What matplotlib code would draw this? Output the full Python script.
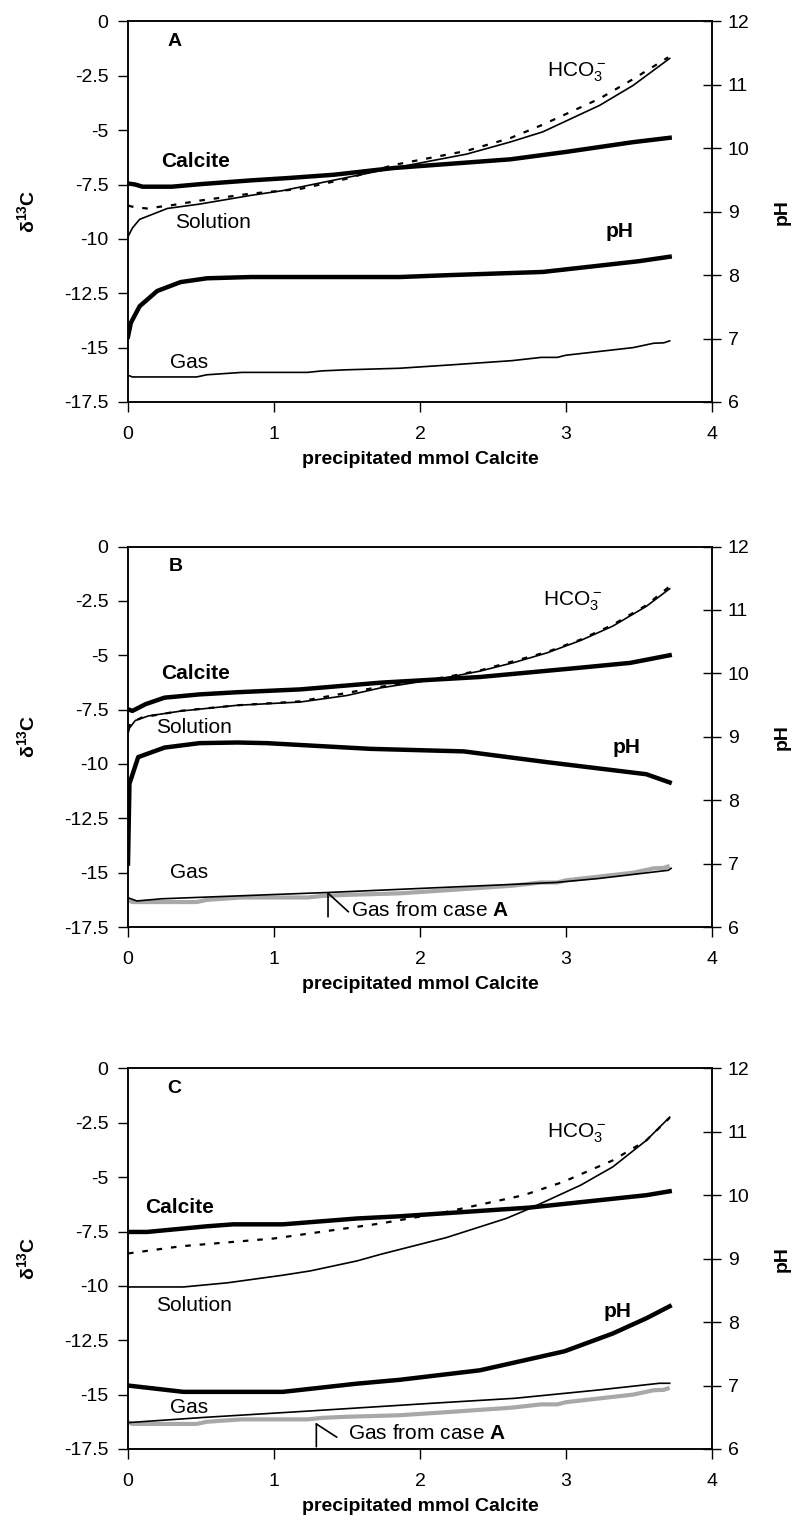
import matplotlib
matplotlib.use('Agg')
import matplotlib.pyplot as plt
from matplotlib.ticker import FuncFormatter

plt.rcParams['font.family'] = ['Liberation Sans', 'DejaVu Sans']
plt.rcParams['mathtext.fontset'] = 'custom'
plt.rcParams['mathtext.rm'] = 'Liberation Sans'
plt.rcParams['mathtext.bf'] = 'Liberation Sans:bold'
plt.rcParams['mathtext.default'] = 'rm'
plt.rcParams['axes.unicode_minus'] = False

# ---- data (x = precipitated mmol calcite) ----
# panel A
calc_A_x = [0, 0.05, 0.1, 0.3, 0.5, 0.84, 1.1, 1.41, 1.82, 2.2, 2.62, 3.0, 3.46, 3.71]
calc_A_y = [-7.45, -7.5, -7.6, -7.6, -7.48, -7.31, -7.2, -7.05, -6.74, -6.55, -6.34, -6.0, -5.55, -5.35]
sol_A_x = [0, 0.03, 0.08, 0.27, 0.49, 0.84, 1.06, 1.35, 1.82, 2.32, 2.62, 2.84, 3.23, 3.46, 3.71]
sol_A_y = [-9.9, -9.5, -9.1, -8.6, -8.4, -8.0, -7.78, -7.38, -6.74, -6.1, -5.54, -5.08, -3.86, -2.94, -1.7]
hco_A_x = [0, 0.05, 0.13, 0.3, 0.49, 0.84, 1.18, 1.5, 1.82, 2.32, 2.62, 2.84, 3.23, 3.46, 3.7]
hco_A_y = [-8.47, -8.55, -8.6, -8.45, -8.24, -7.92, -7.7, -7.23, -6.6, -5.95, -5.36, -4.75, -3.55, -2.65, -1.65]
ph_A_x = [0, 0.02, 0.08, 0.2, 0.36, 0.54, 0.84, 1.86, 2.2, 2.84, 3.23, 3.5, 3.71]
ph_A_y = [7.03, 7.25, 7.51, 7.75, 7.89, 7.95, 7.97, 7.97, 8.0, 8.05, 8.15, 8.22, 8.29]
gas_A_x = [0, 0.03, 0.47, 0.54, 0.78, 1.23, 1.33, 1.5, 1.86, 2.2, 2.63, 2.83, 2.94, 3.0, 3.46, 3.6, 3.67, 3.71]
gas_A_y = [-16.27, -16.35, -16.35, -16.25, -16.14, -16.14, -16.07, -16.02, -15.95, -15.8, -15.6, -15.45,
           -15.45, -15.35, -15.0, -14.8, -14.78, -14.69]

# panel B
calc_B_x = [0, 0.03, 0.12, 0.25, 0.49, 0.75, 1.18, 1.73, 2.41, 3.1, 3.44, 3.71]
calc_B_y = [-7.48, -7.56, -7.25, -6.95, -6.8, -6.7, -6.57, -6.26, -6.0, -5.57, -5.35, -5.0]
sol_B_x = [0, 0.01, 0.05, 0.14, 0.37, 0.75, 1.18, 1.5, 1.73, 2.18, 2.41, 2.64, 2.87, 3.1, 3.32, 3.55, 3.71]
sol_B_y = [-8.6, -8.35, -8.0, -7.79, -7.56, -7.3, -7.15, -6.85, -6.5, -6.03, -5.73, -5.34, -4.89, -4.32,
           -3.66, -2.75, -1.94]
hco_B_x = [0, 0.02, 0.1, 0.37, 0.75, 1.18, 1.73, 2.18, 2.41, 2.87, 3.1, 3.32, 3.55, 3.71]
hco_B_y = [-8.4, -8.1, -7.85, -7.55, -7.3, -7.12, -6.45, -6.0, -5.7, -4.85, -4.28, -3.6, -2.7, -1.83]
ph_B_x = [0, 0.01, 0.07, 0.25, 0.49, 0.75, 0.95, 1.66, 2.3, 2.87, 3.55, 3.71]
ph_B_y = [7.0, 8.26, 8.68, 8.83, 8.9, 8.91, 8.9, 8.81, 8.77, 8.6, 8.41, 8.28]
gas_B_x = [0, 0.06, 0.23, 1.37, 2.93, 3.22, 3.7, 3.72]
gas_B_y = [-16.15, -16.3, -16.2, -15.91, -15.45, -15.27, -14.89, -14.8]

# panel C
calc_C_x = [0, 0.13, 0.54, 0.72, 1.06, 1.57, 1.86, 2.75, 3.55, 3.71]
calc_C_y = [-7.52, -7.52, -7.26, -7.17, -7.17, -6.9, -6.8, -6.4, -5.83, -5.65]
sol_C_x = [0, 0.38, 0.68, 1.06, 1.25, 1.57, 1.73, 2.18, 2.59, 2.75, 3.1, 3.32, 3.55, 3.71]
sol_C_y = [-10.05, -10.05, -9.86, -9.51, -9.31, -8.85, -8.55, -7.78, -6.9, -6.45, -5.37, -4.53, -3.31, -2.24]
hco_C_x = [0, 0.36, 1.0, 1.73, 2.18, 2.71, 2.98, 3.32, 3.55, 3.71]
hco_C_y = [-8.51, -8.18, -7.82, -7.13, -6.6, -5.83, -5.22, -4.23, -3.31, -2.27]
ph_C_x = [0, 0.38, 1.06, 1.57, 1.86, 2.41, 2.99, 3.32, 3.55, 3.71]
ph_C_y = [7.0, 6.9, 6.9, 7.03, 7.09, 7.24, 7.54, 7.82, 8.06, 8.25]
gas_C_x = [0, 0.52, 1.23, 2.08, 2.65, 3.22, 3.64, 3.71]
gas_C_y = [-16.29, -16.05, -15.76, -15.4, -15.17, -14.79, -14.48, -14.48]

d13c_ticks = [0, -2.5, -5, -7.5, -10, -12.5, -15, -17.5]
ph_ticks = [6, 7, 8, 9, 10, 11, 12]
x_ticks = [0, 1, 2, 3, 4]

# label placement per panel (data coords of left axis)
# letter, calcite, solution, gas, hco3 (baseline), pH, arrow (tip, barb end, shaft end, text)
panel_text = {
    'A': dict(letter=(0.32, -0.92), calc=(0.23, -6.45), sol=(0.32, -9.26), gas=(0.29, -15.67),
              hco=(2.87, -2.53), ph=(3.27, -9.67), arrow=None),
    'B': dict(letter=(0.33, -0.92), calc=(0.23, -5.82), sol=(0.19, -8.3), gas=(0.29, -15.0),
              hco=(2.84, -2.7), ph=(3.32, -9.25),
              arrow=((1.37, -15.94), (1.37, -17.03), (1.51, -16.8), (1.53, -16.72))),
    'C': dict(letter=(0.32, -0.92), calc=(0.12, -6.39), sol=(0.19, -10.9), gas=(0.29, -15.58),
              hco=(2.87, -3.17), ph=(3.26, -11.17),
              arrow=((1.29, -16.35), (1.29, -17.4), (1.43, -16.96), (1.51, -16.81))),
}

panels = [
    ('A', 0.7359, (calc_A_x, calc_A_y), (sol_A_x, sol_A_y), (hco_A_x, hco_A_y), (ph_A_x, ph_A_y),
     (gas_A_x, gas_A_y), False),
    ('B', 0.3909, (calc_B_x, calc_B_y), (sol_B_x, sol_B_y), (hco_B_x, hco_B_y), (ph_B_x, ph_B_y),
     (gas_B_x, gas_B_y), True),
    ('C', 0.0480, (calc_C_x, calc_C_y), (sol_C_x, sol_C_y), (hco_C_x, hco_C_y), (ph_C_x, ph_C_y),
     (gas_C_x, gas_C_y), True),
]

TICK_FS = 14
LAB_FS = 14
TXT_FS = 15

fig = plt.figure(figsize=(7.95, 15.22), dpi=100)
fmt = FuncFormatter(lambda v, p: '%g' % v)

for letter, bottom, calc, sol, hco, ph, gas, show_ref in panels:
    ax = fig.add_axes([0.161, bottom, 0.7346, 0.25])
    ax2 = ax.twinx()

    # gas from case A (grey reference) goes under everything
    if show_ref:
        ax.plot(gas_A_x, gas_A_y, color='#a8a8a8', lw=3, solid_capstyle='butt', zorder=1)
    ax.plot(gas[0], gas[1], color='black', lw=1.2, zorder=2)
    ax.plot(sol[0], sol[1], color='black', lw=1.2, zorder=2)
    ax.plot(hco[0], hco[1], color='black', lw=1.6, dashes=(2.5, 4), zorder=3)
    ax.plot(calc[0], calc[1], color='black', lw=3.2, zorder=4)
    ax2.plot(ph[0], ph[1], color='black', lw=3.2)

    ax.set_xlim(0, 4)
    ax.set_ylim(-17.5, 0)
    ax2.set_ylim(6, 12)
    ax.set_xticks(x_ticks)
    ax.set_yticks(d13c_ticks)
    ax2.set_yticks(ph_ticks)
    ax.yaxis.set_major_formatter(fmt)
    ax.xaxis.set_major_formatter(fmt)

    ax.tick_params(axis='y', direction='out', length=7, width=1, labelsize=TICK_FS, pad=7)
    ax.tick_params(axis='x', direction='out', length=7, width=1, labelsize=TICK_FS, pad=10)
    ax2.tick_params(axis='y', direction='inout', length=13, width=1, labelsize=TICK_FS, pad=5)
    for a in (ax, ax2):
        for s in a.spines.values():
            s.set_linewidth(1.1)

    ax.set_ylabel(r'$\mathbf{δ^{13}C}$', fontsize=LAB_FS, va='center')
    ax.yaxis.set_label_coords(-0.173, 0.5)
    ax2.set_ylabel('pH', fontsize=LAB_FS, fontweight='bold', va='center', rotation=90)
    ax2.yaxis.set_label_coords(1.12, 0.5)
    ax.set_xlabel('precipitated mmol Calcite', fontsize=LAB_FS, fontweight='bold', va='center')
    ax.xaxis.set_label_coords(0.5, -0.152)

    t = panel_text[letter]
    ax.text(*t['letter'], letter, fontsize=LAB_FS, fontweight='bold', ha='center', va='center')
    ax.text(*t['calc'], 'Calcite', fontsize=TXT_FS, fontweight='bold', ha='left', va='center')
    ax.text(*t['sol'], 'Solution', fontsize=TXT_FS, ha='left', va='center')
    ax.text(*t['gas'], 'Gas', fontsize=TXT_FS, ha='left', va='center')
    ax.text(*t['hco'], 'HCO$_3^-$', fontsize=TXT_FS, ha='left', va='baseline')
    ax.text(*t['ph'], 'pH', fontsize=TXT_FS, fontweight='bold', ha='left', va='center')

    if t['arrow'] is not None:
        tip, barb, shaft, txt = t['arrow']
        ax.annotate('', xy=tip, xytext=barb,
                    arrowprops=dict(arrowstyle='-', lw=1.2, color='black', shrinkA=0, shrinkB=0))
        ax.annotate('', xy=tip, xytext=shaft,
                    arrowprops=dict(arrowstyle='-', lw=1.2, color='black', shrinkA=0, shrinkB=0))
        ax.text(*txt, r'Gas from case $\mathbf{A}$', fontsize=TXT_FS, ha='left', va='center')

fig.savefig('out.png', dpi=100)
